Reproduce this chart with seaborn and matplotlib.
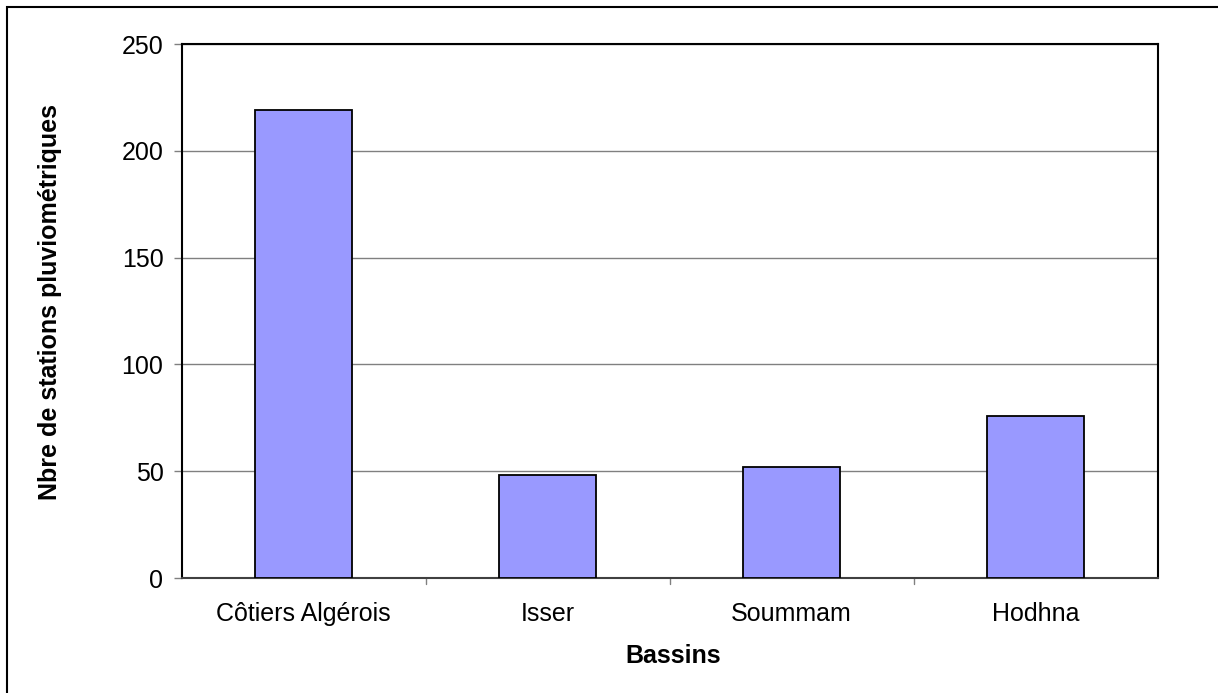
import matplotlib
matplotlib.use("Agg")
import matplotlib.pyplot as plt
import matplotlib.patches as mpatches
import seaborn as sns
import pandas as pd

# Number of rain-gauge stations per basin
bassins = ["Côtiers Algérois", "Isser", "Soummam", "Hodhna"]
stations = [219, 48, 52, 76]
y_ticks = [0, 50, 100, 150, 200, 250]

sns.set_theme(style="white")
plt.rcParams["font.family"] = ["Liberation Sans", "DejaVu Sans"]

df = pd.DataFrame({"Bassins": bassins, "Stations": stations})

fig = plt.figure(figsize=(12.18, 6.93), dpi=100)
ax = fig.add_axes([181.5 / 1218, 1 - 578 / 693, 976 / 1218, 534 / 693])

sns.barplot(data=df, x="Bassins", y="Stations", color="#9999FF",
            width=0.4, edgecolor="black", linewidth=1.3,
            saturation=1, ax=ax, zorder=3)

ax.set_xlim(-0.5, len(bassins) - 0.5)
ax.set_ylim(0, 250)
ax.set_yticks(y_ticks)
ax.set_yticklabels([str(v) for v in y_ticks], fontsize=18, color="black")
ax.set_xticks(range(len(bassins)))
ax.set_xticklabels(bassins, fontsize=18, color="black")
ax.tick_params(axis="x", length=0, pad=17)
ax.tick_params(axis="y", length=6, width=1, color="#808080",
               direction="out", left=True, pad=7)

# category separators below the axis
for b in [0.5, 1.5, 2.5]:
    ax.plot([b, b], [0, -0.011], transform=ax.get_xaxis_transform(),
            color="#808080", lw=1, clip_on=False)

ax.yaxis.grid(True, color="#808080", linewidth=1, zorder=0)
ax.xaxis.grid(False)
for s in ax.spines.values():
    s.set_visible(True)
    s.set_color("black")
    s.set_linewidth(1.5)
ax.spines["bottom"].set_color("#404040")

ax.set_xlabel("Bassins", fontsize=18, fontweight="bold", color="black",
              va="center")
ax.xaxis.set_label_coords(0.504, -0.146)
ax.set_ylabel("Nbre de stations pluviométriques", fontsize=18,
              fontweight="bold", color="black", va="center")
ax.yaxis.set_label_coords(-0.1347, 0.517)

# outer chart-area border
fig.patches.append(mpatches.Rectangle((7 / 1218, -0.1), 1.2, (1 - 7 / 693) + 0.1,
                                      transform=fig.transFigure, fill=False,
                                      edgecolor="black", linewidth=1.5))

fig.savefig("out.png", dpi=100, facecolor="white")
